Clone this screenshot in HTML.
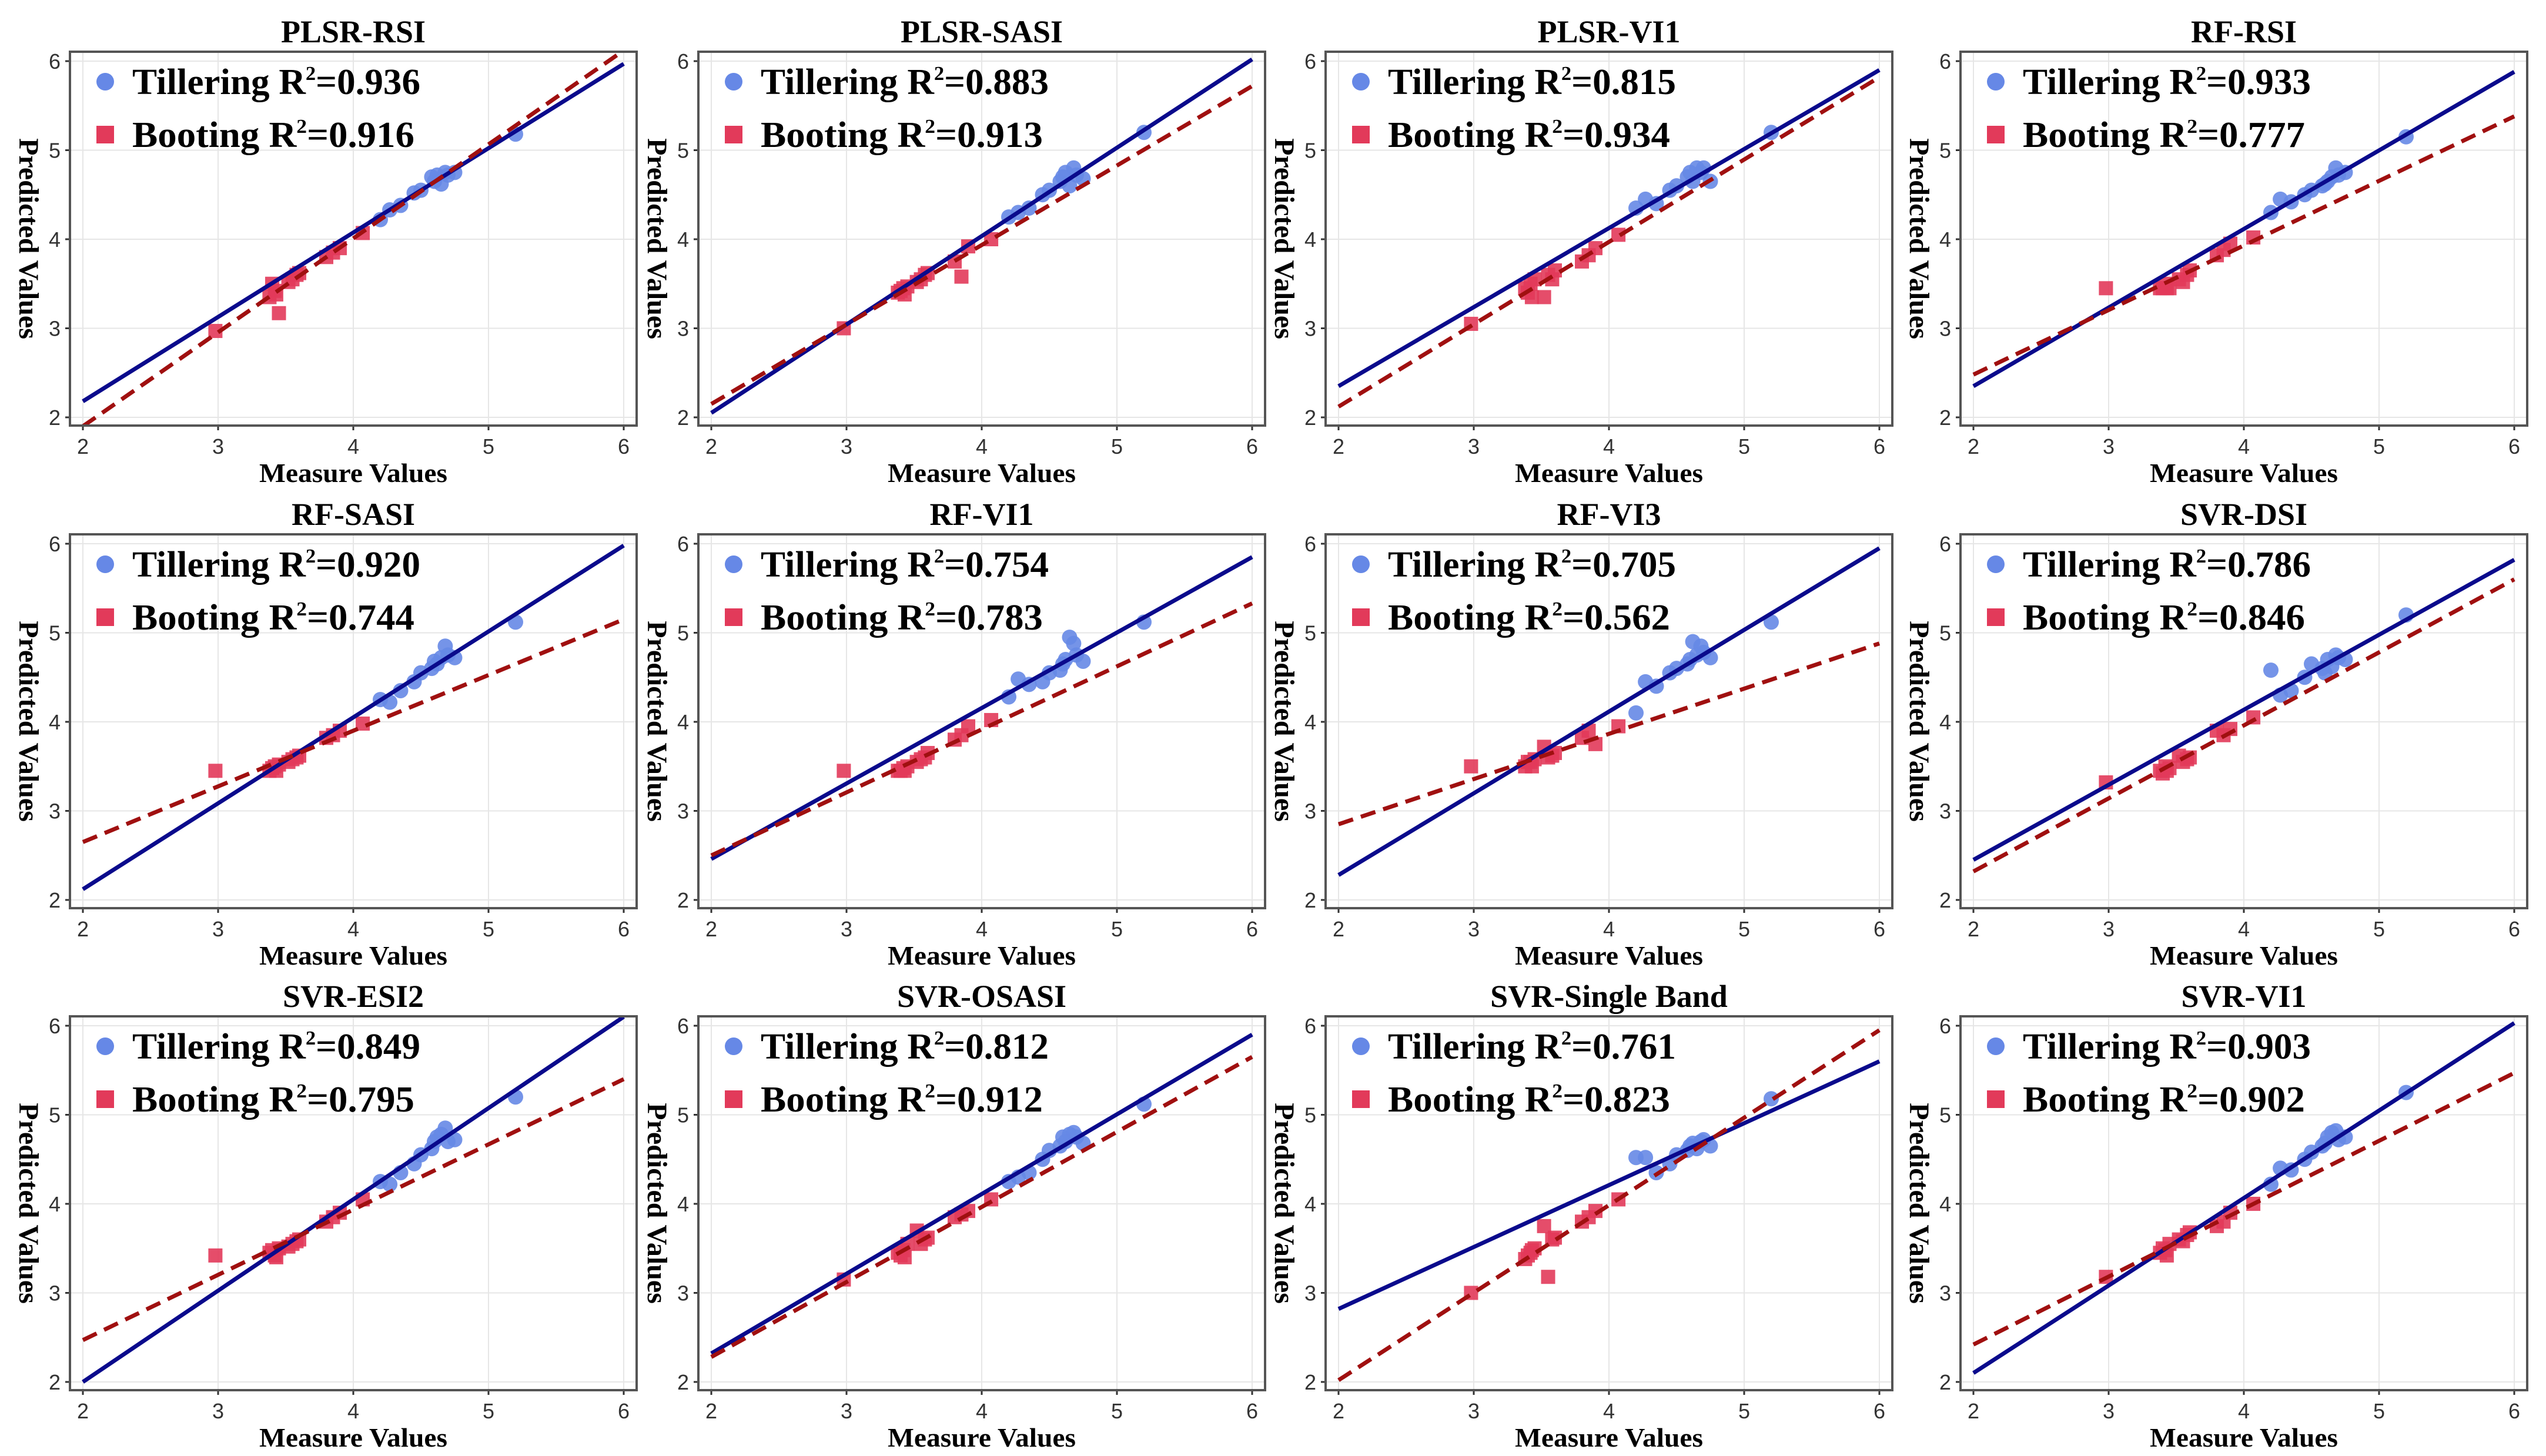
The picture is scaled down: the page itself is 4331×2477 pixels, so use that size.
<!DOCTYPE html>
<html><head><meta charset="utf-8"><style>
html,body{margin:0;padding:0;background:#fff;}
svg{display:block;}
text{font-family:"Liberation Serif",serif;}
.tick{font-family:"Liberation Sans",sans-serif;font-size:36px;fill:#333;}
</style></head><body>
<svg id="fig" width="4331" height="2477" viewBox="0 0 4331 2477" xmlns="http://www.w3.org/2000/svg"></svg>
<script>
const titles = ["PLSR-RSI","PLSR-SASI","PLSR-VI1","RF-RSI","RF-SASI","RF-VI1","RF-VI3","SVR-DSI","SVR-ESI2","SVR-OSASI","SVR-Single Band","SVR-VI1"];
const r2Tillering = ["0.936","0.883","0.815","0.933","0.920","0.754","0.705","0.786","0.849","0.812","0.761","0.903"];
const r2Booting = ["0.916","0.913","0.934","0.777","0.744","0.783","0.562","0.846","0.795","0.912","0.823","0.902"];
const tickValues = [2,3,4,5,6];
const measTillering = [4.2,4.27,4.35,4.45,4.5,4.58,4.6,4.62,4.65,4.68,4.7,4.75,5.2];
const measBooting = [2.98,3.38,3.4,3.42,3.43,3.45,3.52,3.55,3.58,3.6,3.8,3.85,3.9,4.07];
const predTillering = [
 [4.22,4.33,4.38,4.52,4.55,4.7,4.65,4.72,4.62,4.75,4.72,4.75,5.18],
 [4.25,4.3,4.35,4.5,4.55,4.65,4.7,4.75,4.6,4.8,4.72,4.68,5.2],
 [4.35,4.45,4.4,4.55,4.6,4.7,4.75,4.65,4.8,4.75,4.8,4.65,5.2],
 [4.3,4.45,4.42,4.5,4.55,4.6,4.62,4.65,4.7,4.8,4.72,4.75,5.15],
 [4.25,4.22,4.35,4.45,4.55,4.6,4.68,4.65,4.72,4.85,4.75,4.72,5.12],
 [4.28,4.48,4.42,4.45,4.55,4.58,4.65,4.7,4.95,4.88,4.75,4.68,5.12],
 [4.1,4.45,4.4,4.55,4.6,4.65,4.7,4.9,4.75,4.85,4.78,4.72,5.12],
 [4.58,4.3,4.35,4.5,4.65,4.6,4.55,4.7,4.62,4.75,4.72,4.7,5.2],
 [4.25,4.22,4.35,4.45,4.55,4.62,4.7,4.75,4.78,4.85,4.7,4.72,5.2],
 [4.25,4.3,4.35,4.5,4.6,4.65,4.75,4.7,4.78,4.8,4.75,4.68,5.12],
 [4.52,4.52,4.35,4.45,4.55,4.6,4.65,4.68,4.62,4.7,4.72,4.65,5.18],
 [4.22,4.4,4.38,4.5,4.58,4.65,4.68,4.75,4.8,4.82,4.72,4.75,5.25]];
const predBooting = [
 [2.97,3.35,3.5,3.42,3.38,3.17,3.52,3.55,3.6,3.62,3.8,3.85,3.9,4.07],
 [3.0,3.4,3.42,3.45,3.38,3.47,3.52,3.55,3.6,3.62,3.75,3.58,3.92,4.0],
 [3.05,3.45,3.4,3.5,3.35,3.55,3.35,3.6,3.55,3.65,3.75,3.82,3.9,4.05],
 [3.45,3.45,3.45,3.5,3.45,3.45,3.55,3.52,3.6,3.65,3.82,3.88,3.95,4.02],
 [3.45,3.45,3.48,3.5,3.45,3.52,3.55,3.58,3.6,3.62,3.82,3.85,3.9,3.98],
 [3.45,3.45,3.45,3.48,3.45,3.5,3.55,3.58,3.6,3.65,3.8,3.85,3.95,4.02],
 [3.5,3.5,3.55,3.55,3.5,3.58,3.72,3.6,3.62,3.65,3.82,3.9,3.75,3.95],
 [3.32,3.45,3.42,3.5,3.45,3.48,3.62,3.55,3.58,3.6,3.9,3.85,3.92,4.05],
 [3.42,3.45,3.48,3.42,3.4,3.5,3.52,3.55,3.58,3.6,3.8,3.85,3.9,4.05],
 [3.15,3.45,3.42,3.48,3.4,3.55,3.7,3.55,3.6,3.62,3.85,3.88,3.92,4.05],
 [3.0,3.38,3.42,3.45,3.48,3.5,3.75,3.18,3.6,3.62,3.8,3.85,3.92,4.05],
 [3.18,3.45,3.5,3.48,3.42,3.55,3.6,3.58,3.65,3.68,3.75,3.8,3.9,4.0]];
// fitted line values at x=2 and x=6
const fitTillering = [[2.18,5.97],[2.05,6.02],[2.35,5.9],[2.35,5.88],[2.12,5.98],[2.46,5.85],[2.28,5.95],[2.45,5.82],[2.0,6.1],[2.32,5.9],[2.82,5.6],[2.1,6.03]];
const fitBooting = [[1.9,6.12],[2.15,5.72],[2.12,5.82],[2.48,5.38],[2.65,5.15],[2.5,5.33],[2.85,4.88],[2.32,5.6],[2.47,5.4],[2.28,5.65],[2.02,5.95],[2.42,5.47]];

const NS = "http://www.w3.org/2000/svg";
const svg = document.getElementById('fig');
function mk(tag, attrs, parent){const e=document.createElementNS(NS,tag);for(const k in attrs)e.setAttribute(k,attrs[k]);(parent||svg).appendChild(e);return e;}
const colLeft=[119,1188,2255,3335];
const rowTop=[88,909,1729];
const BW=964, BH=636;

titles.forEach((t,i)=>{
  const bx=colLeft[i%4], by=rowTop[Math.floor(i/4)];
  const xs=v=>bx+22+(v-2)/4*920;
  const ys=v=>by+16+(6-v)/4*606;
  const g=mk('g',{});
  
  
  tickValues.forEach(v=>{
    const gx=mk('line',{x1:xs(v),x2:xs(v),y1:by,y2:by+BH,stroke:'#e6e6e6','stroke-width':2},g);
    
    
    const gy=mk('line',{x1:bx,x2:bx+BW,y1:ys(v),y2:ys(v),stroke:'#e6e6e6','stroke-width':2},g);
    
    
    const tx=mk('text',{x:xs(v),y:by+BH+48,'text-anchor':'middle',class:'tick'},g);tx.textContent=v;
    
    
    const ty=mk('text',{x:bx-16,y:ys(v)+13,'text-anchor':'end',class:'tick'},g);ty.textContent=v;
    
    
    mk('line',{x1:xs(v),x2:xs(v),y1:by+BH,y2:by+BH+8,stroke:'#333','stroke-width':3},g);
    mk('line',{x1:bx-8,x2:bx,y1:ys(v),y2:ys(v),stroke:'#333','stroke-width':3},g);
  });
  const clip='clip'+i;
  const cp=mk('clipPath',{id:clip},g);mk('rect',{x:bx,y:by,width:BW,height:BH},cp);
  predBooting[i].forEach((p,j)=>{
    const s=mk('rect',{x:xs(measBooting[j])-12,y:ys(p)-12,width:24,height:24,fill:'#e23a5a','fill-opacity':0.9},g);
    
    
  });
  predTillering[i].forEach((p,j)=>{
    const c=mk('circle',{cx:xs(measTillering[j]),cy:ys(p),r:13,fill:'#6688e6','fill-opacity':0.9},g);
    
    
  });
  const ft=fitTillering[i], fb=fitBooting[i];
  const l1=mk('line',{x1:xs(2),y1:ys(ft[0]),x2:xs(6),y2:ys(ft[1]),stroke:'#0a0a8c','stroke-width':7,'clip-path':'url(#'+clip+')'},g);
  
  
  const l2=mk('line',{x1:xs(2),y1:ys(fb[0]),x2:xs(6),y2:ys(fb[1]),stroke:'#a01010','stroke-width':7,'stroke-dasharray':'26 14','clip-path':'url(#'+clip+')'},g);
  
  
  const box=mk('rect',{x:bx,y:by,width:BW,height:BH,fill:'none',stroke:'#555','stroke-width':4},g);
  
  
  const tt=mk('text',{x:bx+BW/2,y:by-16,'text-anchor':'middle','font-size':54,'font-weight':'bold'},g);tt.textContent=t;
  
  
  const xt=mk('text',{x:bx+BW/2,y:by+BH+96,'text-anchor':'middle','font-size':46,'font-weight':'bold',textLength:320,lengthAdjust:'spacingAndGlyphs'},g);xt.textContent='Measure Values';
  
  
  const yt=mk('text',{x:0,y:0,'text-anchor':'middle','font-size':48,'font-weight':'bold',transform:'translate('+(bx-86)+','+(by+BH/2)+') rotate(90)'},g);yt.textContent='Predicted Values';
  
  
  const lc=mk('circle',{cx:bx+60,cy:by+51,r:15,fill:'#6688e6'},g);
  
  
  const ls=mk('rect',{x:bx+45,y:by+126,width:30,height:30,fill:'#e23a5a'},g);
  
  
  const t1=mk('text',{x:bx+106,y:by+72,'font-size':62,'font-weight':'bold',textLength:490,lengthAdjust:'spacingAndGlyphs'},g);
  t1.innerHTML='Tillering R<tspan font-size="34" dy="-24">2</tspan><tspan dy="24">=' + r2Tillering[i] + '</tspan>';
  
  
  const t2=mk('text',{x:bx+106,y:by+162,'font-size':62,'font-weight':'bold',textLength:480,lengthAdjust:'spacingAndGlyphs'},g);
  t2.innerHTML='Booting  R<tspan font-size="34" dy="-24">2</tspan><tspan dy="24">=' + r2Booting[i] + '</tspan>';
  
  
});
</script>
</body></html>
